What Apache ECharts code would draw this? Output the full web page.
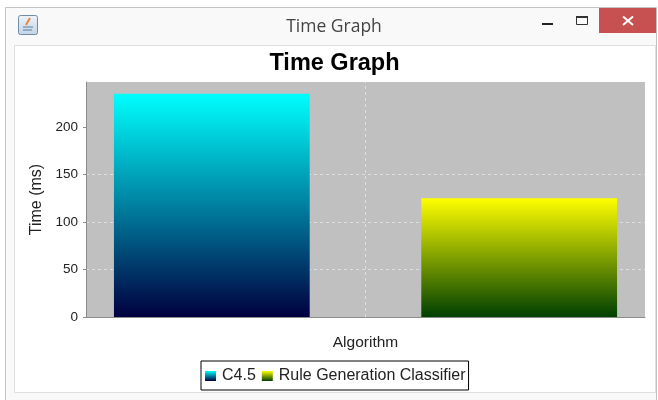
<!DOCTYPE html>
<html>
<head>
<meta charset="utf-8">
<title>Time Graph</title>
<style>
  html, body { margin: 0; padding: 0; background: #fff; }
  #chart { width: 658px; height: 400px; }
</style>
<script src="https://cdn.jsdelivr.net/npm/echarts@6/dist/echarts.min.js"></script>
</head>
<body>
<div id="chart"></div>
<script>
const categories = ['Algorithm'];
const c45Values = [235];
const ruleValues = [125];
const yTicks = [0, 50, 100, 150, 200];

const myChart = echarts.init(document.getElementById('chart'), null, { renderer: 'canvas' });

const fontName = 'Liberation Sans';

// Vertical top to bottom gradient like the JFreeChart bars
function barGradient(top, bottom) {
  return new echarts.graphic.LinearGradient(0, 0, 0, 1, [
    { offset: 0, color: top },
    { offset: 1, color: bottom },
  ]);
}

// Window frame around the chart
const windowFrame = [
  { type: 'rect', z: -10, shape: { x: 5.5, y: 7.5, width: 651, height: 393 }, style: { fill: '#f9f9f9', stroke: '#c4c4c4' } },
  { type: 'rect', z: -9, shape: { x: 14.5, y: 45.5, width: 641, height: 347 }, style: { fill: '#ffffff', stroke: '#dfdfdf' } },
  { type: 'rect', z: -8, shape: { x: 599, y: 8, width: 57, height: 25 }, style: { fill: '#c75050' } },
  { type: 'line', z: -7, shape: { x1: 623, y1: 16.5, x2: 633, y2: 25 }, style: { stroke: '#fff', lineWidth: 2 } },
  { type: 'line', z: -7, shape: { x1: 633, y1: 16.5, x2: 623, y2: 25 }, style: { stroke: '#fff', lineWidth: 2 } },
  { type: 'rect', z: -7, shape: { x: 542, y: 23, width: 11, height: 2 }, style: { fill: '#222' } },
  { type: 'rect', z: -7, shape: { x: 576.5, y: 16.5, width: 11, height: 8 }, style: { fill: 'none', stroke: '#333' } },
  { type: 'rect', z: -7, shape: { x: 576, y: 16, width: 12, height: 2 }, style: { fill: '#333' } },
  // java icon
  {
    type: 'rect', z: -7,
    shape: { x: 18.5, y: 15.5, width: 19, height: 19, r: 2 },
    style: {
      fill: new echarts.graphic.LinearGradient(0, 0, 0, 1, [
        { offset: 0, color: '#eef3f8' },
        { offset: 1, color: '#c3d5e6' },
      ]),
      stroke: '#6f8ba5',
    },
  },
  { type: 'line', z: -6, shape: { x1: 30, y1: 18, x2: 26, y2: 25 }, style: { stroke: '#e8873a', lineWidth: 2 } },
  { type: 'line', z: -6, shape: { x1: 23, y1: 27, x2: 33, y2: 27 }, style: { stroke: '#5b7c9c', lineWidth: 1 } },
  { type: 'line', z: -6, shape: { x1: 23, y1: 30, x2: 32, y2: 30 }, style: { stroke: '#5b7c9c', lineWidth: 1 } },
  {
    type: 'text', z: -6, x: 334, y: 27,
    style: { text: 'Time Graph', fill: '#444', font: '17.5px "Open Sans", sans-serif', align: 'center', verticalAlign: 'middle' },
  },
];

const option = {
  animation: false,
  backgroundColor: 'transparent',
  title: {
    text: 'Time Graph',
    left: 329.5,
    textAlign: 'center',
    top: 47,
    textStyle: { fontFamily: fontName, fontSize: 23.5, fontWeight: 'bold', color: '#000' },
  },
  legend: {
    left: 201,
    top: 361,
    padding: [7, 3, 6, 4],
    itemGap: 6,
    itemWidth: 11,
    itemHeight: 10,
    icon: 'rect',
    backgroundColor: '#fff',
    borderColor: '#000',
    borderWidth: 1,
    borderRadius: 0,
    textStyle: { fontFamily: fontName, fontSize: 16, color: '#222', padding: [0, 0, 0, 1] },
    data: ['C4.5', 'Rule Generation Classifier'],
  },
  grid: { left: 86, right: 13, top: 82, bottom: 83, show: true, backgroundColor: '#c0c0c0', borderWidth: 0 },
  xAxis: {
    type: 'category',
    data: categories,
    name: categories[0],
    nameLocation: 'middle',
    nameGap: 18,
    nameTextStyle: { fontFamily: fontName, fontSize: 15.5, color: '#222' },
    axisLabel: { show: false },
    axisTick: { show: false },
    axisLine: { lineStyle: { color: '#8c8c8c' } },
    splitLine: { show: false },
  },
  yAxis: {
    type: 'value',
    min: 0,
    max: 247.4,
    interval: 50,
    name: 'Time (ms)',
    nameLocation: 'middle',
    nameGap: 41,
    nameTextStyle: { fontFamily: fontName, fontSize: 16, color: '#222' },
    axisLabel: {
      fontFamily: fontName,
      fontSize: 13.5,
      color: '#222',
      margin: 8,
      customValues: yTicks,
    },
    axisTick: { show: true, length: 3, customValues: yTicks, lineStyle: { color: '#8c8c8c' } },
    axisLine: { show: true, lineStyle: { color: '#8c8c8c' } },
    splitLine: { show: true, showMaxLine: false, lineStyle: { color: '#dedede', type: [3, 3], width: 1 } },
  },
  series: [
    {
      name: 'C4.5',
      type: 'bar',
      data: c45Values,
      barCategoryGap: '10%',
      barGap: '57%',
      itemStyle: { color: barGradient('#00ffff', '#000040') },
    },
    {
      name: 'Rule Generation Classifier',
      type: 'bar',
      data: ruleValues,
      itemStyle: { color: barGradient('#ffff00', '#004000') },
    },
    {
      // holds the centre gridline of the category axis, draws no points
      type: 'line',
      data: [],
      markLine: {
        silent: true,
        symbol: 'none',
        label: { show: false },
        lineStyle: { color: '#dedede', type: [3, 3], width: 1 },
        data: [{ xAxis: 0 }],
      },
    },
  ],
  graphic: { elements: windowFrame },
};

myChart.setOption(option);

window.addEventListener('resize', () => {
  myChart.resize();
});
</script>
</body>
</html>
